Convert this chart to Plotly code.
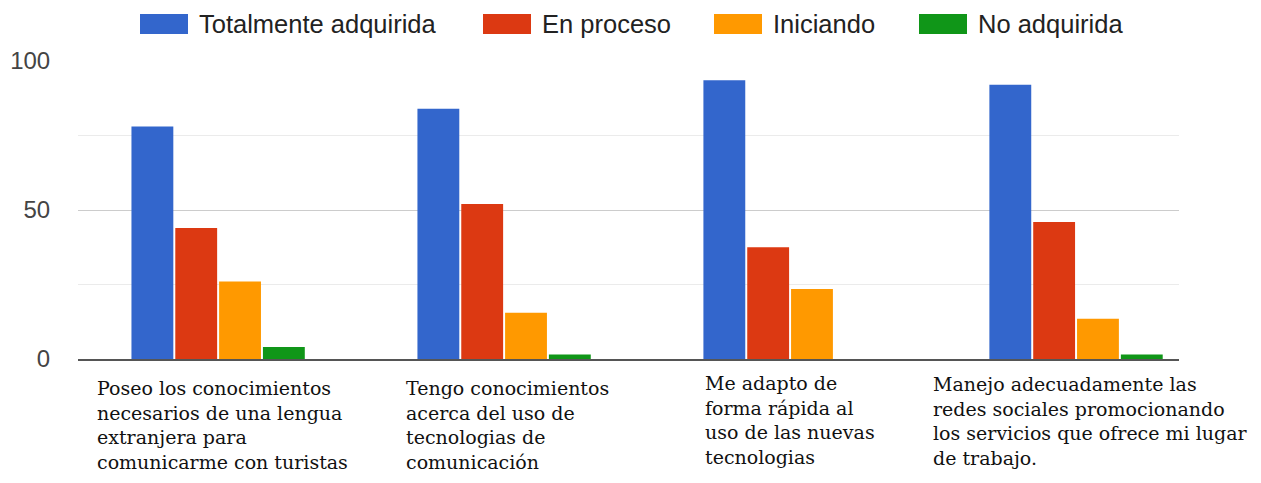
import plotly.graph_objects as go

categories = [
    "Poseo los conocimientos<br>necesarios de una lengua<br>extranjera para<br>comunicarme con turistas",
    "Tengo conocimientos<br>acerca del uso de<br>tecnologias de<br>comunicación",
    "Me adapto de<br>forma rápida al<br>uso de las nuevas<br>tecnologias",
    "Manejo adecuadamente las<br>redes sociales promocionando<br>los servicios que ofrece mi lugar<br>de trabajo.",
]
series_names = ["Totalmente adquirida", "En proceso", "Iniciando", "No adquirida"]
totalmente = [78, 84, 93.5, 92]
en_proceso = [44, 52, 37.5, 46]
iniciando = [26, 15.5, 23.5, 13.5]
no_adquirida = [4, 1.5, 0, 1.5]
colors = ["#3366cc", "#dc3912", "#ff9900", "#109618"]
y_ticks = [0, 50, 100]
y_minor = [25, 75]

# page sits 8px in from the window edge (body margin)
OFF = 8
W, H = 1261 - OFF, 483 - OFF
# plot area in figure pixels (left, right, top, bottom)
L, R, T, B = 78 - OFF, 1179 - OFF, 61 - OFF, 359 - OFF


def px_x(p):
    return (p - OFF - L) / (R - L)


def px_y(p):
    return (B - (p - OFF)) / (B - T)


fig = go.Figure()
for name, vals, col in zip(series_names, [totalmente, en_proceso, iniciando, no_adquirida], colors):
    fig.add_trace(go.Bar(x=categories, y=vals, name=name, showlegend=False,
                         marker=dict(color=col, line=dict(width=0))))

# category labels, left aligned lines under each group (small nudges as in the original)
label_dx = [4, 3, 0, 14]
label_dy = [-16, -16, -11, -12]
for cat, dx, dy in zip(categories, label_dx, label_dy):
    fig.add_annotation(x=cat, y=0, xref="x", yref="y", text=cat, showarrow=False,
                       xanchor="center", yanchor="top", align="left", xshift=dx, yshift=dy,
                       font=dict(family="DejaVu Serif", size=19, color="#111"))

# legend drawn like the google chart one: wide swatches
legend_left = [140, 483, 714, 919]
for name, col, lx in zip(series_names, colors, legend_left):
    fig.add_shape(type="rect", xref="paper", yref="paper",
                  x0=px_x(lx), x1=px_x(lx + 48), y0=px_y(34), y1=px_y(14),
                  fillcolor=col, line=dict(width=0))
    fig.add_annotation(x=px_x(lx + 57), y=px_y(24), xref="paper", yref="paper",
                       text=name, showarrow=False, xanchor="left", yanchor="middle",
                       font=dict(family="Liberation Sans", size=25.5, color="#222"))

fig.update_layout(
    width=W, height=H,
    margin=dict(l=L, r=W - R, t=T, b=H - B, autoexpand=False),
    plot_bgcolor="white", paper_bgcolor="white",
    barmode="group", bargap=0.387, bargroupgap=0.045,
    font=dict(family="Liberation Sans", size=24, color="#444"),
    showlegend=False,
    xaxis=dict(showticklabels=False, range=[-0.49, 3.36], showline=True,
               linecolor="#555", linewidth=2, showgrid=False),
    yaxis=dict(range=[0, 100], tickvals=y_ticks, showgrid=True, gridcolor="#cccccc",
               zeroline=False, ticks="outside", ticklen=22, tickcolor="rgba(0,0,0,0)",
               minor=dict(tickvals=y_minor, showgrid=True, gridcolor="#ebebeb")),
)

fig.write_html("out.html")
